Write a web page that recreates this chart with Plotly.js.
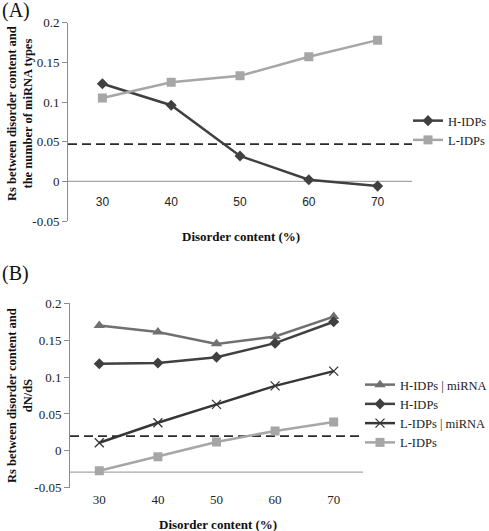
<!DOCTYPE html>
<html>
<head>
<meta charset="utf-8">
<script src="https://cdn.plot.ly/plotly-3.0.1.min.js"></script>
<style>html,body{margin:0;padding:0;background:#fff;}#chart{width:489px;height:531px;}</style>
</head>
<body>
<div id="chart"></div>
<script>
// ---- data ----
const disorderContent = [30, 40, 50, 60, 70];
const xTickLabels = ['30', '40', '50', '60', '70'];

// Panel A: Rs between disorder content and the number of miRNA types
const aHIDPs = [0.123, 0.096, 0.032, 0.002, -0.006];
const aLIDPs = [0.105, 0.125, 0.133, 0.157, 0.178];
const aDashedLevel = [0.047];
const aBaseLevel = [0];

// Panel B: Rs between disorder content and dN/dS
const bHIDPsMiRNA = [0.170, 0.161, 0.145, 0.155, 0.182];
const bHIDPs = [0.118, 0.119, 0.127, 0.146, 0.175];
const bLIDPsMiRNA = [0.011, 0.038, 0.063, 0.088, 0.108];
const bLIDPs = [-0.027, -0.008, 0.012, 0.027, 0.039];
const bDashedLevel = [0.020];
const bBaseLevel = [-0.029];

const yTickVals = [-0.05, 0, 0.05, 0.1, 0.15, 0.2];
const yTickText = ['-0.05', '0', '0.05', '0.1', '0.15', '0.2'];

// ---- styles ----
const SERIF = "'Liberation Serif', 'Times New Roman', serif";
const SANS = "'Liberation Sans', Arial, sans-serif";
const DARK = '#404040';
const MID = '#707070';
const LIGHT = '#a6a6a6';

const W = 489, H = 531;
const px = v => v / W;
const py = v => 1 - v / H;

const traces = [
  {x: disorderContent, y: aHIDPs, name: 'H-IDPs', xaxis: 'x', yaxis: 'y', legend: 'legend',
   mode: 'lines+markers', line: {color: DARK, width: 2.5},
   marker: {symbol: 'diamond', size: 8.5, color: DARK}},
  {x: disorderContent, y: aLIDPs, name: 'L-IDPs', xaxis: 'x', yaxis: 'y', legend: 'legend',
   mode: 'lines+markers', line: {color: LIGHT, width: 2.5},
   marker: {symbol: 'square', size: 9, color: LIGHT}},
  {x: disorderContent, y: bHIDPsMiRNA, name: 'H-IDPs | miRNA', xaxis: 'x2', yaxis: 'y2', legend: 'legend2',
   mode: 'lines+markers', line: {color: MID, width: 2.5},
   marker: {symbol: 'triangle-up', size: 10, color: MID}},
  {x: disorderContent, y: bHIDPs, name: 'H-IDPs', xaxis: 'x2', yaxis: 'y2', legend: 'legend2',
   mode: 'lines+markers', line: {color: DARK, width: 2.5},
   marker: {symbol: 'diamond', size: 8.5, color: DARK}},
  {x: disorderContent, y: bLIDPsMiRNA, name: 'L-IDPs | miRNA', xaxis: 'x2', yaxis: 'y2', legend: 'legend2',
   mode: 'lines+markers', line: {color: '#363636', width: 2.5},
   marker: {symbol: 'x-thin-open', size: 9, color: '#363636', line: {width: 1.3, color: '#363636'}}},
  {x: disorderContent, y: bLIDPs, name: 'L-IDPs', xaxis: 'x2', yaxis: 'y2', legend: 'legend2',
   mode: 'lines+markers', line: {color: LIGHT, width: 2.5},
   marker: {symbol: 'square', size: 9, color: LIGHT}}
];

function hline(xref, yref, level, color, width, dash) {
  return {type: 'line', xref: xref + ' domain', yref: yref, x0: 0, x1: 1, y0: level, y1: level,
          line: {color: color, width: width, dash: dash}, layer: 'below'};
}

const yAxisCommon = {
  range: [-0.05, 0.2], tickvals: yTickVals, ticktext: yTickText,
  showgrid: false, zeroline: false, showline: true, linecolor: '#8c8c8c', linewidth: 1,
  ticks: 'outside', ticklen: 5, tickcolor: '#8c8c8c',
  tickfont: {family: SERIF, size: 13, color: '#222'}, fixedrange: true
};
const xAxisCommon = {
  range: [25, 75], tickvals: disorderContent, ticktext: xTickLabels,
  showgrid: false, zeroline: false, showline: false,
  ticks: 'outside', tickcolor: 'rgba(0,0,0,0)', fixedrange: true
};

const legendFont = {family: SERIF, size: 12.5, color: '#222'};

const layout = {
  width: W, height: H,
  margin: {l: 0, r: 0, t: 0, b: 0, autoexpand: false},
  paper_bgcolor: '#fff', plot_bgcolor: 'rgba(0,0,0,0)',
  showlegend: true,
  xaxis: Object.assign({}, xAxisCommon, {
    domain: [px(68), px(412)], anchor: 'free', position: py(181.7), ticklen: 9,
    tickfont: {family: SANS, size: 12, color: '#222'}
  }),
  yaxis: Object.assign({}, yAxisCommon, {domain: [py(221), py(22.7)], anchor: 'x', position: px(68)}),
  xaxis2: Object.assign({}, xAxisCommon, {
    domain: [px(70), px(363)], anchor: 'y2', ticklen: 0,
    tickfont: {family: SERIF, size: 13, color: '#222'}
  }),
  yaxis2: Object.assign({}, yAxisCommon, {domain: [py(487.7), py(303.3)], anchor: 'x2'}),
  legend: {x: px(408), y: py(106), xanchor: 'left', yanchor: 'top',
           font: legendFont, bgcolor: 'rgba(0,0,0,0)', borderwidth: 0,
           itemwidth: 30, tracegroupgap: 0},
  legend2: {x: px(360), y: py(370), xanchor: 'left', yanchor: 'top',
            font: legendFont, bgcolor: 'rgba(0,0,0,0)', borderwidth: 0,
            itemwidth: 30, tracegroupgap: 0},
  shapes: [
    hline('x', 'y', aBaseLevel[0], LIGHT, 1.2, 'solid'),
    hline('x', 'y', aDashedLevel[0], '#2a2a2a', 1.8, '9px,5px'),
    hline('x2', 'y2', bBaseLevel[0], LIGHT, 1.2, 'solid'),
    hline('x2', 'y2', bDashedLevel[0], '#2a2a2a', 1.8, '9px,5px')
  ],
  annotations: [
    {text: '(A)', xref: 'paper', yref: 'paper', x: 0, y: py(11), xanchor: 'left', yanchor: 'middle',
     showarrow: false, font: {family: SERIF, size: 20, color: '#111'}},
    {text: '(B)', xref: 'paper', yref: 'paper', x: 0, y: py(273), xanchor: 'left', yanchor: 'middle',
     showarrow: false, font: {family: SERIF, size: 20, color: '#111'}},
    {text: 'Rs between disorder content and<br>the number of miRNA types', xref: 'paper', yref: 'paper',
     x: px(20), y: py(114), xanchor: 'center', yanchor: 'middle', textangle: -90, showarrow: false,
     font: {family: SERIF, size: 12.5, weight: 'bold', color: '#111'}},
    {text: 'Rs between disorder content and<br>dN/dS', xref: 'paper', yref: 'paper',
     x: px(20), y: py(396), xanchor: 'center', yanchor: 'middle', textangle: -90, showarrow: false,
     font: {family: SERIF, size: 12.5, weight: 'bold', color: '#111'}},
    {text: 'Disorder content (%)', xref: 'paper', yref: 'paper', x: px(241), y: py(236),
     xanchor: 'center', yanchor: 'middle', showarrow: false,
     font: {family: SERIF, size: 13, weight: 'bold', color: '#111'}},
    {text: 'Disorder content (%)', xref: 'paper', yref: 'paper', x: px(217.5), y: py(524),
     xanchor: 'center', yanchor: 'middle', showarrow: false,
     font: {family: SERIF, size: 13, weight: 'bold', color: '#111'}}
  ]
};

Plotly.newPlot('chart', traces, layout, {staticPlot: true, displayModeBar: false});
</script>
</body>
</html>
